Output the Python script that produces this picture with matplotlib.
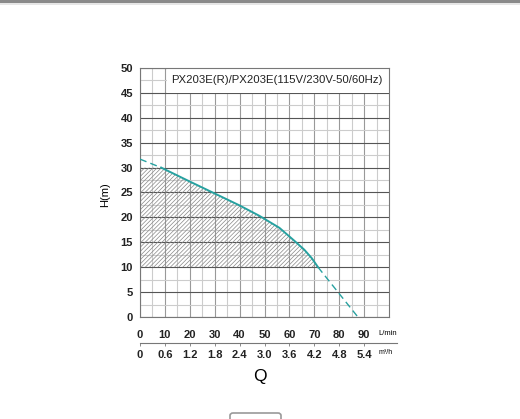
import matplotlib.pyplot as plt
import numpy as np
from matplotlib.patches import Rectangle, FancyBboxPatch

plt.rcParams['font.family'] = ['Liberation Sans', 'DejaVu Sans']
plt.rcParams['hatch.linewidth'] = 0.5

# pump curve: Q in L/min, H in m
q_solid = [8.5, 20, 30, 40, 48, 56, 62, 66, 69, 71.5]
h_solid = [30, 27.2, 24.8, 22.4, 20.3, 17.9, 15.3, 13.5, 11.8, 10]
q_dash_low = [0, 8.5]
h_dash_low = [31.7, 30]
q_dash_high = [71.5, 87.5]
h_dash_high = [10, 0]

title = "PX203E(R)/PX203E(115V/230V-50/60Hz)"
q_ticks = list(range(0, 100, 10))
m3h_ticks = [0, 0.6, 1.2, 1.8, 2.4, 3.0, 3.6, 4.2, 4.8, 5.4]
m3h_labels = ['0', '0.6', '1.2', '1.8', '2.4', '3.0', '3.6', '4.2', '4.8', '5.4']
h_ticks = list(range(0, 55, 5))

teal = '#27a1a0'

fig = plt.figure(figsize=(5.2, 4.19), dpi=100)
ax = fig.add_axes([140 / 520, 102 / 419, 249 / 520, 249 / 419])

ax.set_xlim(0, 100)
ax.set_ylim(0, 50)

# grid
ax.set_xticks(q_ticks)
ax.set_xticks(np.arange(5, 100, 10), minor=True)
ax.set_yticks(h_ticks)
ax.set_yticks(np.arange(2.5, 50, 5), minor=True)
ax.grid(axis='x', which='major', color='#999999', linewidth=0.8)
ax.grid(axis='x', which='minor', color='#cccccc', linewidth=0.8)
ax.grid(axis='y', which='major', color='#555555', linewidth=0.8)
ax.grid(axis='y', which='minor', color='#cccccc', linewidth=0.8)
ax.tick_params(which='both', length=0)
ax.tick_params(axis='y', pad=5, labelsize=8)
ax.tick_params(axis='x', pad=9.5, labelsize=8)
for lab in ax.get_xticklabels() + ax.get_yticklabels():
    lab.set_fontweight('bold')
    lab.set_color('#222222')
for sp in ax.spines.values():
    sp.set_color('#777777')
    sp.set_linewidth(0.8)

# hatched working range
x_hatch = [0] + q_solid
top_hatch = [30] + h_solid
ax.fill_between(x_hatch, 10, top_hatch, facecolor='none', edgecolor='#888888',
                hatch='////////', linewidth=0, zorder=2)

# curve
ax.plot(q_solid, h_solid, color=teal, linewidth=1.4, zorder=4)
ax.plot(q_dash_low, h_dash_low, color=teal, linewidth=1.0, dashes=(5, 3), zorder=4)
ax.plot(q_dash_high, h_dash_high, color=teal, linewidth=1.0, dashes=(5, 3), zorder=4)

# title box
ax.add_patch(Rectangle((11, 45), 89, 5, facecolor='white', edgecolor='none', zorder=2))
ax.text(12.7, 47.6, title, fontsize=8.2, va='center', ha='left', color='#222222', zorder=3)

# second Q scale in m3/h
sec = ax.secondary_xaxis(-0.1044, functions=(lambda q: q * 0.06, lambda m: m / 0.06))
sec.set_xticks(m3h_ticks)
sec.set_xticklabels(m3h_labels)
sec.tick_params(direction='out', length=2.2, width=0.6, color='#777777', pad=3, labelsize=8)
for lab in sec.get_xticklabels():
    lab.set_fontweight('bold')
    lab.set_color('#222222')
sec.spines['bottom'].set_color('#777777')
sec.spines['bottom'].set_linewidth(0.8)
sec.spines['bottom'].set_bounds(0, 6.2)

ax.text(0.956, -0.068, 'L/min', transform=ax.transAxes, fontsize=5.5, va='center', ha='left')
ax.text(0.956, -0.141, 'm³/h', transform=ax.transAxes, fontsize=5, va='center', ha='left')
ax.text(0.482, -0.237, 'Q', transform=ax.transAxes, fontsize=12.5, va='center', ha='center')
ax.text(-0.1406, 0.49, 'H(m)', transform=ax.transAxes, fontsize=8, va='center', ha='center',
        rotation=90)

# page bits around the chart
fig.patches.append(Rectangle((0, 1 - 3 / 419), 1, 3 / 419, transform=fig.transFigure,
                             facecolor='#8a8a8a', edgecolor='none'))
fig.patches.append(Rectangle((0, 1 - 5 / 419), 1, 1.5 / 419, transform=fig.transFigure,
                             facecolor='#e6e6e6', edgecolor='none'))
fig.patches.append(FancyBboxPatch((230 / 520, -10 / 419), 51 / 520, 16 / 419,
                                  boxstyle='round,pad=0,rounding_size=0.006',
                                  transform=fig.transFigure, facecolor='white',
                                  edgecolor='#999999', linewidth=1.2))

fig.savefig('out.png', dpi=100)
